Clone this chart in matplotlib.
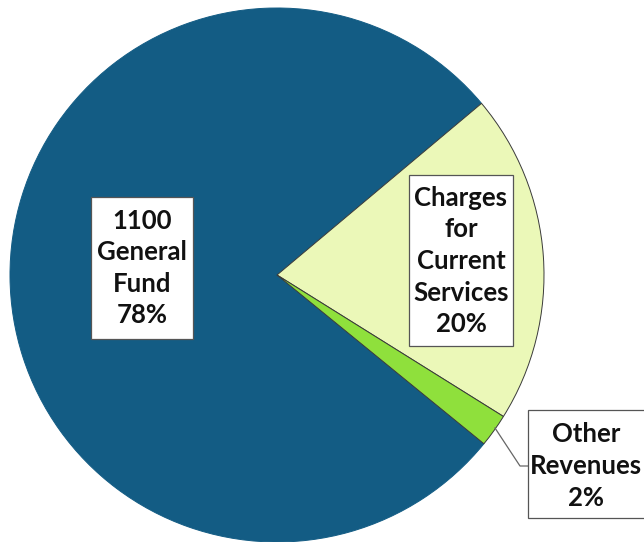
import matplotlib
matplotlib.use("Agg")
import matplotlib.pyplot as plt
from matplotlib.patches import Rectangle

categories = ["1100\nGeneral\nFund", "Charges\nfor\nCurrent\nServices", "Other\nRevenues"]
values = [78, 20, 2]
pct_labels = ["78%", "20%", "2%"]
colors = ["#135C84", "#EBF8B8", "#8FE03C"]

W, H = 644, 542
fig = plt.figure(figsize=(W / 100, H / 100), dpi=100)
ax = fig.add_axes([0, 0, 1, 1])

def Y(y):
    return H - y

start = 40 + values[0] / sum(values) * 360
wedges, _ = ax.pie(values, colors=colors, startangle=start, counterclock=False,
                   center=(277, Y(275)), radius=267, frame=True,
                   wedgeprops=dict(edgecolor="#3a3a3a", linewidth=0.7))
ax.set_xlim(0, W)
ax.set_ylim(0, H)
ax.axis("off")
wedges[0].set_edgecolor(colors[0])

# label boxes (x0, y0_top, width, height, text center x, text center y)
boxes = [
    (91, 197, 102, 142, 142, 268),
    (409, 175, 104, 171, 461, 261),
    (528, 410, 120, 108, 586, 466),
]
for (x0, y0, w, h, cx, cy), cat, pct in zip(boxes, categories, pct_labels):
    ax.add_patch(Rectangle((x0, Y(y0 + h)), w, h, facecolor="white",
                           edgecolor="#555555", linewidth=0.9, zorder=5))
    ax.text(cx, Y(cy), cat + "\n" + pct, ha="center", va="center",
            fontsize=18.5, fontweight="bold", family=["Lato", "DejaVu Sans"],
            linespacing=1.38, color="#111111", zorder=6)

# leader line for small slice
ax.plot([495, 520, 528], [Y(428), Y(466), Y(466)], color="#666666",
        linewidth=0.9, zorder=4)

fig.savefig("out.png", dpi=100)
